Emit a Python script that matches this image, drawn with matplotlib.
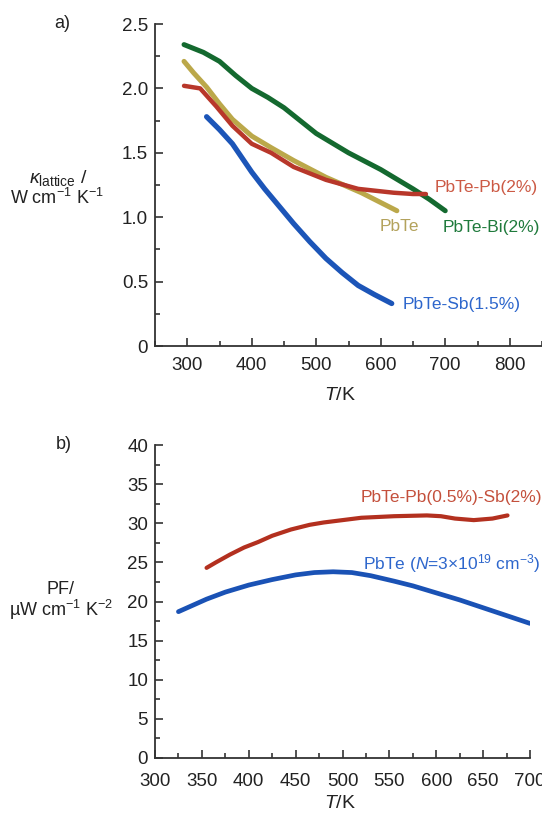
import matplotlib
matplotlib.use("Agg")
import matplotlib.pyplot as plt
from matplotlib.ticker import MultipleLocator

plt.rcParams['font.family'] = ['Liberation Sans', 'DejaVu Sans']
plt.rcParams['mathtext.fontset'] = 'custom'
plt.rcParams['mathtext.rm'] = 'Liberation Sans'
plt.rcParams['mathtext.it'] = 'Liberation Sans:italic'
plt.rcParams['mathtext.bf'] = 'Liberation Sans:bold'

# ---------------- data: panel a (lattice thermal conductivity) ----------------
T_bi = [295, 325, 350, 375, 400, 425, 450, 475, 500, 550, 600, 650, 675, 700]
k_bi = [2.34, 2.28, 2.21, 2.10, 2.00, 1.93, 1.85, 1.75, 1.65, 1.50, 1.37, 1.22, 1.14, 1.05]

T_pbte = [295, 310, 330, 350, 370, 400, 430, 465, 515, 570, 625]
k_pbte = [2.21, 2.12, 2.01, 1.88, 1.76, 1.63, 1.54, 1.44, 1.31, 1.19, 1.05]

T_pb = [295, 320, 345, 370, 400, 430, 465, 515, 565, 620, 650, 670]
k_pb = [2.02, 2.00, 1.86, 1.71, 1.57, 1.50, 1.39, 1.29, 1.22, 1.19, 1.18, 1.18]

T_sb = [330, 350, 370, 385, 400, 420, 440, 465, 490, 515, 540, 565, 590, 617]
k_sb = [1.78, 1.68, 1.57, 1.46, 1.35, 1.22, 1.10, 0.95, 0.81, 0.68, 0.57, 0.47, 0.40, 0.33]

# ---------------- data: panel b (power factor) ----------------
T_pbsb = [355, 365, 380, 395, 410, 425, 445, 465, 480, 500, 520, 555, 590, 605, 620, 640, 660, 676]
pf_pbsb = [24.3, 25.0, 26.0, 26.9, 27.6, 28.4, 29.2, 29.8, 30.1, 30.4, 30.7, 30.9, 31.0,
           30.9, 30.6, 30.4, 30.6, 31.0]

T_ref = [325, 340, 355, 375, 400, 425, 450, 470, 490, 510, 530, 555, 575, 600, 625, 650, 675, 700]
pf_ref = [18.7, 19.5, 20.3, 21.2, 22.1, 22.8, 23.4, 23.7, 23.8, 23.7, 23.3, 22.6, 22.0, 21.1,
          20.2, 19.2, 18.2, 17.2]

W, H = 542, 816
fig = plt.figure(figsize=(W / 100, H / 100), dpi=100)

axis_col = '#333333'

def style(ax):
    for s in ['top', 'right']:
        ax.spines[s].set_visible(False)
    for s in ['left', 'bottom']:
        ax.spines[s].set_color(axis_col)
        ax.spines[s].set_linewidth(1.3)
    ax.tick_params(which='both', direction='in', color=axis_col, labelcolor='#222222',
                   labelsize=13.5, width=1.2)
    ax.tick_params(which='major', length=6, pad=5)
    ax.tick_params(which='minor', length=3.5)

# panel a
axa = fig.add_axes([155 / W, 1 - 346 / H, (542 - 155) / W, (346 - 24) / H])
axa.plot(T_bi, k_bi, color='#14692f', lw=3.6, solid_capstyle='round', solid_joinstyle='round')
axa.plot(T_pbte, k_pbte, color='#bba84a', lw=3.6, solid_capstyle='round', solid_joinstyle='round')
axa.plot(T_pb, k_pb, color='#b8372a', lw=3.2, solid_capstyle='round', solid_joinstyle='round')
axa.plot(T_sb, k_sb, color='#1c55b8', lw=3.8, solid_capstyle='round', solid_joinstyle='round')
axa.set_xlim(250, 850)
axa.set_ylim(0, 2.5)
axa.xaxis.set_minor_locator(MultipleLocator(50))
axa.yaxis.set_minor_locator(MultipleLocator(0.25))
axa.set_xticks([300, 400, 500, 600, 700, 800])
axa.set_xticklabels(['300', '400', '500', '600', '700', '800'])
axa.set_yticks([0, 0.5, 1.0, 1.5, 2.0, 2.5])
axa.set_yticklabels(['0', '0.5', '1.0', '1.5', '2.0', '2.5'])
style(axa)
axa.tick_params(axis='x', which='major', pad=8)

fs = 12.5
axa.text(683, 1.23, 'PbTe-Pb(2%)', color='#cc5a45', fontsize=fs, va='center', ha='left')
axa.text(696, 0.92, 'PbTe-Bi(2%)', color='#1f7a3c', fontsize=fs, va='center', ha='left')
axa.text(598, 0.93, 'PbTe', color='#b3a25c', fontsize=fs, va='center', ha='left')
axa.text(634, 0.32, 'PbTe-Sb(1.5%)', color='#2d66cc', fontsize=fs, va='center', ha='left')

fig.text(340 / W, 1 - 395 / H, r'$T$/K', fontsize=14, ha='center', va='center', color='#222222')
fig.text(62 / W, 1 - 24 / H, 'a)', fontsize=13, ha='center', va='center', color='#222222')
fig.text(58 / W, 1 - 178 / H, r'$\kappa_{\rm lattice}$ /', fontsize=14, ha='center', va='center', color='#222222')
fig.text(57 / W, 1 - 198 / H, r'W cm$^{-1}$ K$^{-1}$', fontsize=13, ha='center', va='center', color='#222222')

# panel b
axb = fig.add_axes([155 / W, 1 - 758 / H, (530 - 155) / W, (758 - 445) / H])
axb.plot(T_pbsb, pf_pbsb, color='#b3301f', lw=3.0, solid_capstyle='round', solid_joinstyle='round')
axb.plot(T_ref, pf_ref, color='#1a52b5', lw=3.4, solid_capstyle='round', solid_joinstyle='round')
axb.set_xlim(300, 700)
axb.set_ylim(0, 40)
axb.xaxis.set_major_locator(MultipleLocator(50))
axb.xaxis.set_minor_locator(MultipleLocator(25))
axb.yaxis.set_major_locator(MultipleLocator(5))
axb.yaxis.set_minor_locator(MultipleLocator(2.5))
style(axb)
axb.tick_params(axis='x', which='major', pad=11)

axb.text(519, 33.3, 'PbTe-Pb(0.5%)-Sb(2%)', color='#c4503c', fontsize=fs, va='center', ha='left')
axb.text(522, 24.9, r'PbTe ($N$=3×10$^{19}$ cm$^{-3}$)', color='#2d66cc', fontsize=fs,
         va='center', ha='left')

fig.text(340 / W, 1 - 803 / H, r'$T$/K', fontsize=14, ha='center', va='center', color='#222222')
fig.text(64 / W, 1 - 445 / H, 'b)', fontsize=13, ha='center', va='center', color='#222222')
fig.text(61 / W, 1 - 590 / H, 'PF/', fontsize=13, ha='center', va='center', color='#222222')
fig.text(61 / W, 1 - 610 / H, r'µW cm$^{-1}$ K$^{-2}$', fontsize=13, ha='center', va='center', color='#222222')

fig.savefig('out.png', dpi=100)
